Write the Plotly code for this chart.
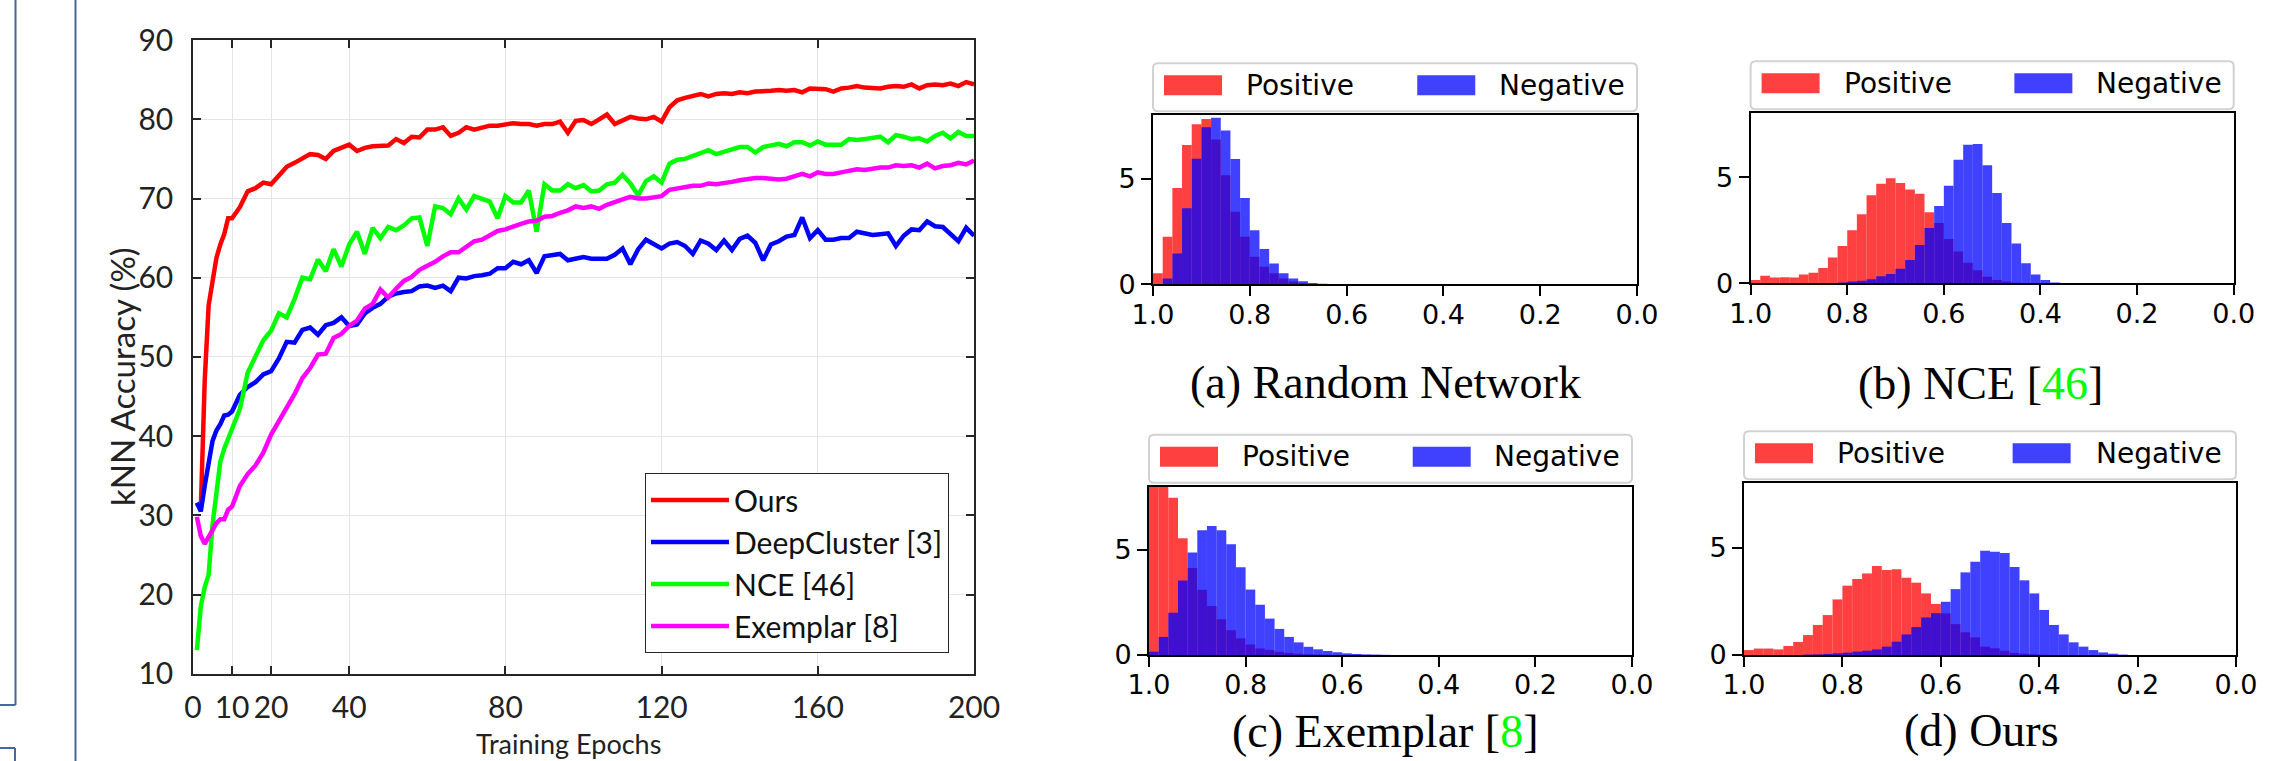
import plotly.graph_objects as go

W, H = 2269, 761

# ---------------- data: kNN accuracy curves ----------------
epochs = list(range(1, 11)) + list(range(12, 201, 2))

ours = [31.5, 30.8, 47.0, 56.5, 59.5, 62.5, 64.2, 65.5, 67.5, 67.5,
        68.9, 70.9, 71.3, 72.0, 71.8, 72.8, 74.0, 74.5, 75.1, 75.6, 75.5, 75.0, 76.0, 76.4, 76.8, 76.0, 76.4, 76.6, 76.7,
        76.7, 77.5, 77.0, 77.8, 77.7, 78.7, 78.7, 79.0, 77.9, 78.3, 79.0, 78.7, 79.0, 79.2, 79.2, 79.3, 79.5, 79.4, 79.4, 79.2, 79.4, 79.4, 79.7, 78.3, 79.8,
        79.9, 79.4, 80.0, 80.6, 79.4, 79.9, 80.3, 80.1, 80.0, 80.3, 79.7, 81.5, 82.4, 82.7, 82.9, 83.2, 82.9, 83.2, 83.3, 83.2, 83.4, 83.3, 83.5, 83.5, 83.6,
        83.7, 83.6, 83.7, 83.4, 83.9, 83.9, 83.8, 83.5, 83.9, 84.0, 84.2, 84.0, 84.0, 83.9, 84.1, 84.2, 84.1, 84.4, 83.9, 84.3, 84.4, 84.3, 84.5, 84.2, 84.7, 84.4]

deepcluster = [31.6, 30.5, 33.7, 36.8, 39.4, 40.7, 41.5, 42.6, 42.7, 43.1,
               45.2, 46.2, 46.8, 47.8, 48.2, 49.8, 51.9, 51.8, 53.4, 53.7, 52.8, 54.0, 54.3, 55.0, 53.9, 54.1, 55.5, 56.2, 56.7,
               57.6, 58.0, 58.2, 58.3, 58.9, 59.0, 58.7, 59.0, 58.3, 60.0, 59.9, 60.2, 60.3, 60.5, 61.2, 61.2, 62.0, 61.7, 62.2, 60.6, 62.7, 62.9, 63.0, 62.2, 62.4,
               62.6, 62.4, 62.4, 62.4, 62.9, 63.7, 61.7, 63.6, 64.8, 64.2, 63.7, 64.3, 64.5, 64.0, 63.0, 64.7, 64.3, 63.5, 64.7, 63.5, 64.9, 65.3, 64.4, 62.2, 64.2,
               64.6, 65.2, 65.4, 67.6, 65.0, 66.0, 64.8, 64.8, 65.0, 65.0, 65.8, 65.6, 65.4, 65.5, 65.6, 64.0, 65.3, 66.1, 66.0, 67.1, 66.5, 66.4, 65.4, 64.6, 66.3, 65.3]

nce = [13.0, 18.5, 20.9, 22.5, 28.8, 32.6, 36.8, 38.4, 39.6, 41.0,
       43.4, 48.0, 50.2, 52.1, 53.3, 55.5, 55.0, 57.3, 60.0, 59.8, 62.3, 60.8, 63.6, 61.4, 64.2, 65.8, 63.0, 66.3, 65.0,
       66.4, 66.0, 66.6, 67.5, 67.6, 64.0, 69.0, 68.8, 68.0, 70.0, 68.6, 70.3, 70.0, 69.6, 67.5, 70.3, 69.5, 69.5, 71.0, 65.8, 71.8, 71.0, 71.0, 71.8, 71.3,
       71.7, 70.9, 71.0, 71.8, 72.0, 73.0, 71.9, 70.4, 72.2, 72.8, 72.0, 74.4, 74.9, 75.0, 75.4, 75.7, 76.1, 75.6, 75.9, 76.3, 76.5, 76.5, 75.8, 76.5, 76.7,
       76.9, 76.6, 77.1, 77.1, 76.7, 77.2, 76.8, 76.8, 76.8, 77.5, 77.4, 77.5, 77.6, 77.8, 77.1, 78.0, 77.8, 77.5, 77.6, 77.2, 77.9, 78.3, 77.6, 78.4, 77.9, 77.9]

exemplar = [29.8, 27.4, 26.4, 27.2, 28.2, 29.0, 29.5, 29.5, 30.7, 31.1,
            33.7, 35.2, 36.3, 37.9, 40.2, 41.9, 43.7, 45.3, 47.3, 48.6, 50.3, 50.4, 52.4, 52.9, 53.9, 54.6, 56.1, 56.7, 58.5,
            57.5, 58.6, 59.6, 60.1, 61.0, 61.5, 62.0, 62.7, 63.2, 63.2, 63.9, 64.6, 64.8, 65.4, 65.9, 66.1, 66.5, 66.8, 67.1, 67.2, 67.7, 67.8, 68.2, 68.5, 69.0,
            68.8, 69.0, 68.7, 69.2, 69.6, 69.9, 70.2, 70.0, 70.0, 70.1, 70.3, 71.1, 71.3, 71.5, 71.6, 71.6, 71.9, 71.8, 71.9, 72.1, 72.3, 72.5, 72.6, 72.6, 72.5,
            72.4, 72.5, 72.8, 73.1, 72.8, 73.3, 73.1, 73.1, 73.3, 73.5, 73.7, 73.6, 73.8, 73.9, 73.9, 74.2, 74.1, 74.2, 73.9, 74.4, 73.8, 74.1, 74.2, 74.5, 74.3, 74.8]

series_names = ["Ours", "DeepCluster [3]", "NCE [46]", "Exemplar [8]"]
series_colors = ["#ff0000", "#0000ff", "#00ff00", "#ff00ff"]
line_x_ticks = [0, 10, 20, 40, 80, 120, 160, 200]
line_y_ticks = [10, 20, 30, 40, 50, 60, 70, 80, 90]

# ---------------- data: similarity histograms (bin width 0.02, from 1.0 downward) ----------------
bin_centers = [round(0.99 - 0.02 * i, 2) for i in range(50)]

pos_random = [0.52, 2.25, 4.56, 6.6, 7.58, 7.83, 6.86, 5.16, 3.43, 2.25, 1.3, 0.83, 0.52, 0.28, 0.13, 0.05, 0.02, 0.01]
neg_random = [0.02, 0.28, 1.46, 3.6, 5.94, 7.44, 7.88, 7.28, 5.93, 4.09, 2.56, 1.67, 0.99, 0.52, 0.28, 0.14, 0.06, 0.03, 0.01]

pos_nce = [0.16, 0.36, 0.27, 0.28, 0.27, 0.41, 0.5, 0.72, 1.22, 1.75, 2.5, 3.25, 4.14, 4.69, 4.94, 4.72, 4.41, 4.22, 3.34, 2.84,
           2.08, 1.5, 0.97, 0.62, 0.31, 0.16, 0.08, 0.03, 0.01]
neg_nce = [0, 0, 0, 0, 0, 0, 0.01, 0.02, 0.02, 0.04, 0.08, 0.12, 0.19, 0.33, 0.44, 0.69, 1.1, 1.8, 2.6, 3.64,
           4.59, 5.81, 6.52, 6.56, 5.56, 4.25, 2.84, 1.87, 0.94, 0.42, 0.16, 0.04, 0.01]

pos_exemplar = [9.2, 8.6, 7.48, 5.55, 4.14, 3.1, 2.33, 1.7, 1.18, 0.79, 0.5, 0.31, 0.24, 0.15, 0.1, 0.06, 0.04, 0.02, 0.01]
neg_exemplar = [0.16, 0.86, 2.01, 3.54, 4.87, 5.93, 6.13, 5.93, 5.27, 4.17, 3.11, 2.39, 1.73, 1.24, 0.86, 0.6, 0.39, 0.27, 0.19, 0.13,
                0.08, 0.05, 0.03, 0.02, 0.01]

pos_ours = [0.23, 0.3, 0.3, 0.26, 0.42, 0.61, 0.93, 1.4, 1.86, 2.59, 3.23, 3.54, 3.8, 4.15, 3.96, 3.99, 3.6, 3.37, 2.87, 2.38,
            1.94, 1.44, 1.06, 0.82, 0.39, 0.31, 0.2, 0.1, 0.06, 0.03, 0.01]
neg_ours = [0, 0, 0, 0, 0, 0, 0.02, 0.03, 0.05, 0.08, 0.11, 0.16, 0.2, 0.26, 0.39, 0.62, 0.96, 1.3, 1.75, 1.95,
            2.48, 3.07, 3.85, 4.35, 4.86, 4.81, 4.75, 4.1, 3.48, 2.87, 2.1, 1.4, 0.96, 0.59, 0.39, 0.23, 0.12, 0.06, 0.02]

hist_labels = ["Positive", "Negative"]
hist_x_ticks = [1.0, 0.8, 0.6, 0.4, 0.2, 0.0]
hist_x_text = ["1.0", "0.8", "0.6", "0.4", "0.2", "0.0"]
hist_y_ticks = [0, 5]
captions = ["(a) Random Network",
            "(b) NCE [<span style='color:#00ff00'>46</span>]",
            "(c) Exemplar [<span style='color:#00ff00'>8</span>]",
            "(d) Ours"]

# ---------------- layout helpers (pixel -> paper) ----------------
def px(x):
    return x / W

def py(y):
    return 1 - y / H

POS_COLOR = "rgba(255,0,0,0.75)"
NEG_COLOR = "rgba(0,0,255,0.75)"
TICK_FONT = "Liberation Sans Narrow, Lato, sans-serif"
LABEL_FONT = "Lato, sans-serif"
AX_COLOR = "#262626"

fig = go.Figure()

for name, vals, color in zip(series_names, [ours, deepcluster, nce, exemplar], series_colors):
    fig.add_trace(go.Scatter(x=epochs, y=vals, mode="lines", name=name,
                             line=dict(color=color, width=4.5), xaxis="x", yaxis="y"))

# panel pixel boxes: x0, x1, top, bottom, caption centre x, caption centre y
panels = [
    (1153, 1637, 115.3, 284.3, 1385, 382),
    (1750.6, 2233.7, 113.3, 283.3, 1980, 383),
    (1149, 1632, 486.7, 655, 1385, 731),
    (1744, 2236, 483.3, 655, 1981, 730),
]
hist_data = [(pos_random, neg_random), (pos_nce, neg_nce), (pos_exemplar, neg_exemplar), (pos_ours, neg_ours)]

layout = dict(
    width=W, height=H, autosize=False,
    margin=dict(l=0, r=0, t=0, b=0, pad=0, autoexpand=False),
    paper_bgcolor="white", plot_bgcolor="white",
    barmode="overlay",
    showlegend=True,
    legend=dict(x=px(645), y=py(473), xanchor="left", yanchor="top",
                bgcolor="white", bordercolor=AX_COLOR, borderwidth=1,
                font=dict(family=LABEL_FONT, size=30, color="#111111"),
                tracegroupgap=0, itemwidth=78),
    xaxis=dict(domain=[px(193), px(974)], range=[0, 200], tickvals=line_x_ticks, automargin=False,
               showgrid=True, gridcolor="#e4e4e4", gridwidth=1, zeroline=False,
               ticks="inside", ticklen=8, tickwidth=1.5, tickcolor=AX_COLOR,
               showline=True, linecolor=AX_COLOR, linewidth=1.5, mirror="ticks",
               tickfont=dict(family=TICK_FONT, size=30, color="#222222"), anchor="y",
               ticklabelstandoff=7),
    yaxis=dict(domain=[py(673.7), py(40.1)], range=[10, 90], tickvals=line_y_ticks, automargin=False,
               showgrid=True, gridcolor="#e4e4e4", gridwidth=1, zeroline=False,
               ticks="inside", ticklen=8, tickwidth=1.5, tickcolor=AX_COLOR,
               showline=True, linecolor=AX_COLOR, linewidth=1.5, mirror="ticks",
               tickfont=dict(family=TICK_FONT, size=30, color="#222222"), anchor="x",
               ticklabelstandoff=12),
)

shapes = []
annotations = []

for i, ((x0, x1, top, bot, cx, cy), (pos, neg), cap) in enumerate(zip(panels, hist_data, captions)):
    k = i + 2
    fig.add_trace(go.Bar(x=bin_centers[:len(pos)], y=pos, width=0.02, marker=dict(color=POS_COLOR, line=dict(width=0)),
                         name=hist_labels[0], showlegend=False, xaxis=f"x{k}", yaxis=f"y{k}"))
    fig.add_trace(go.Bar(x=bin_centers[:len(neg)], y=neg, width=0.02, marker=dict(color=NEG_COLOR, line=dict(width=0)),
                         name=hist_labels[1], showlegend=False, xaxis=f"x{k}", yaxis=f"y{k}"))
    layout[f"xaxis{k}"] = dict(domain=[px(x0), px(x1)], range=[1.0, 0.0], tickvals=hist_x_ticks, ticktext=hist_x_text,
                               ticks="outside", ticklen=10, tickwidth=2, tickcolor="black", automargin=False,
                               showline=True, linecolor="black", linewidth=2, mirror=True,
                               showgrid=False, zeroline=False, anchor=f"y{k}",
                               tickfont=dict(family="DejaVu Sans", size=27, color="black"),
                               ticklabelstandoff=-5)
    layout[f"yaxis{k}"] = dict(domain=[py(bot), py(top)], range=[0, 8], tickvals=hist_y_ticks,
                               ticks="outside", ticklen=10, tickwidth=2, tickcolor="black", automargin=False,
                               showline=True, linecolor="black", linewidth=2, mirror=True,
                               showgrid=False, zeroline=False, anchor=f"x{k}",
                               tickfont=dict(family="DejaVu Sans", size=27, color="black"))

    # legend frame (rounded) above the axes
    bx0, bx1, by0, by1, r = x0, x1, top - 52, top - 4, 5
    pts = [("M", bx0 + r, by0), ("L", bx1 - r, by0), ("Q", bx1, by0, bx1, by0 + r), ("L", bx1, by1 - r),
           ("Q", bx1, by1, bx1 - r, by1), ("L", bx0 + r, by1), ("Q", bx0, by1, bx0, by1 - r),
           ("L", bx0, by0 + r), ("Q", bx0, by0, bx0 + r, by0)]
    path = ""
    for p in pts:
        cmd = p[0]
        coords = p[1:]
        seg = " ".join(f"{px(coords[j]):.5f},{py(coords[j + 1]):.5f}" for j in range(0, len(coords), 2))
        path += f"{cmd}{seg} "
    path += "Z"
    shapes.append(dict(type="path", xref="paper", yref="paper", path=path,
                       line=dict(color="#d2d2d2", width=2), fillcolor="white"))
    wdt = x1 - x0
    yc = (by0 + by1) / 2 - 2
    for lab, col, off_p, off_t in [(hist_labels[0], POS_COLOR, 11, 91), (hist_labels[1], NEG_COLOR, 0.546 * wdt, 0.711 * wdt)]:
        shapes.append(dict(type="rect", xref="paper", yref="paper",
                           x0=px(x0 + off_p), x1=px(x0 + off_p + 58), y0=py(yc + 10), y1=py(yc - 10),
                           fillcolor=col, line=dict(width=0)))
        annotations.append(dict(text=lab, xref="paper", yref="paper", x=px(x0 + off_t), y=py(yc),
                                xanchor="left", yanchor="middle", showarrow=False,
                                font=dict(family="DejaVu Sans", size=28, color="black")))
    annotations.append(dict(text=cap, xref="paper", yref="paper", x=px(cx), y=py(cy),
                            xanchor="center", yanchor="middle", showarrow=False,
                            font=dict(family="Liberation Serif, Times New Roman, serif", size=46, color="black")))

# axis titles of the line chart
annotations.append(dict(text="kNN Accuracy (%)", xref="paper", yref="paper", x=px(122), y=py(377),
                        textangle=-90, xanchor="center", yanchor="middle", showarrow=False,
                        font=dict(family=LABEL_FONT, size=33, color="#222222")))
annotations.append(dict(text="Training Epochs", xref="paper", yref="paper", x=px(568), y=py(761),
                        xanchor="center", yanchor="bottom", showarrow=False, borderpad=0,
                        font=dict(family=LABEL_FONT, size=27, color="#222222")))

# frame lines of the surrounding page at the left edge
EDGE = "#44699a"
for (ax0, ay0, ax1, ay1) in [(75.5, 0, 75.5, 761), (15.5, 0, 15.5, 705), (0, 705, 15.5, 705),
                             (0, 748, 15, 748), (15, 748, 15, 761)]:
    shapes.append(dict(type="line", xref="paper", yref="paper", x0=px(ax0), y0=py(ay0), x1=px(ax1), y1=py(ay1),
                       line=dict(color=EDGE, width=2)))

layout["shapes"] = shapes
layout["annotations"] = annotations
fig.update_layout(**layout)

fig.write_html("out.html", config={"displayModeBar": False},
               post_script="document.body.style.margin='0';document.body.style.overflow='hidden';")
